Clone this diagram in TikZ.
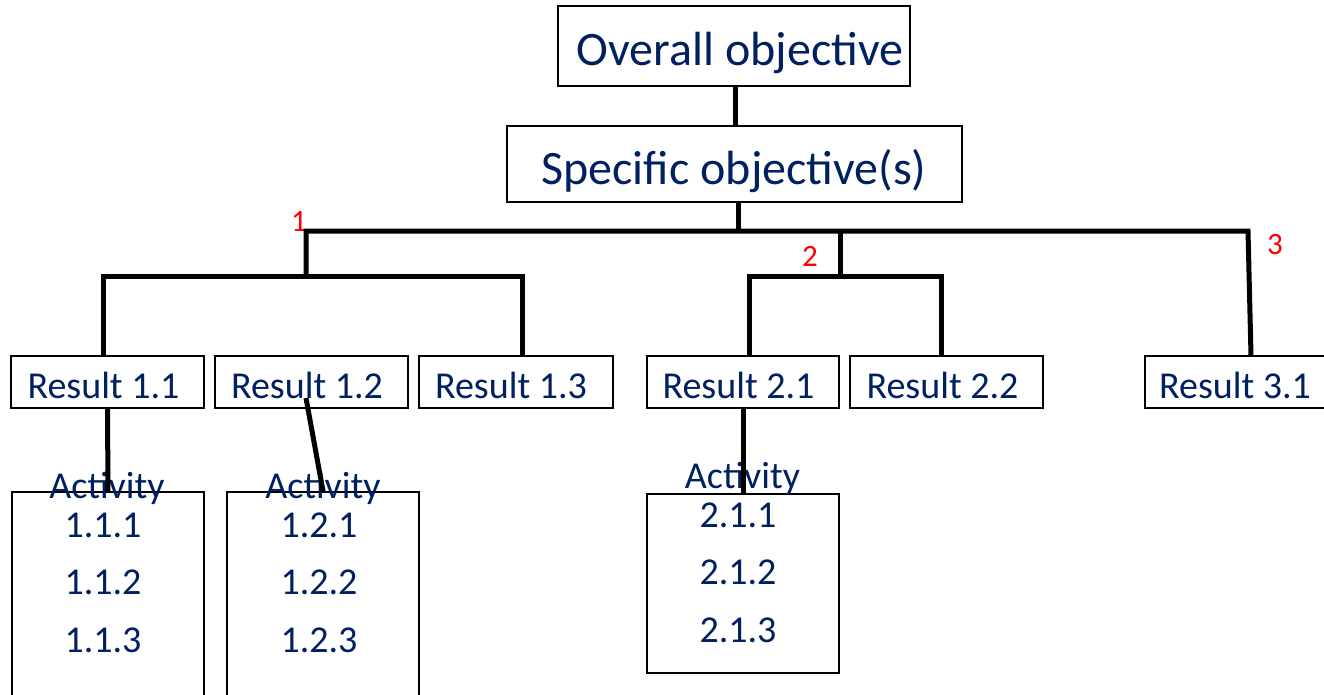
\documentclass[tikz,border=0pt]{standalone}
\usepackage{fontspec}
\setmainfont{Carlito}
\definecolor{navy}{RGB}{0,32,96}
\definecolor{numred}{RGB}{255,0,0}
\begin{document}
\begin{tikzpicture}[x=1pt,y=-1pt,
  box/.style={draw=black, line width=1.8pt, fill=white, rectangle, inner sep=0pt},
  bigtxt/.style={anchor=base, inner sep=0pt, text=navy, font=\fontsize{48}{58}\selectfont},
  smalltxt/.style={anchor=base, inner sep=0pt, text=navy, font=\fontsize{38}{46}\selectfont},
  numtxt/.style={anchor=base, inner sep=0pt, text=numred, font=\fontsize{31}{37}\selectfont},
  link/.style={draw=black, line width=5pt}]
\useasboundingbox (0,0) rectangle (1324,694);
\clip (0,0) rectangle (1324,694);

% objectives
\node[box, minimum width=352pt, minimum height=80pt] (ovb) at (734,46) {};
\node[box, minimum width=455pt, minimum height=76pt] (spb) at (734.5,164) {};
\node[bigtxt] (ovt) at (740,65) {Overall objective};
\node[bigtxt] (spt) at (734,184) {Specific objective(s)};

% results
\node[box, minimum width=193pt, minimum height=52pt] (r11) at (107.5,382) {};
\node[box, minimum width=193pt, minimum height=52pt] (r12) at (311.5,382) {};
\node[box, minimum width=194pt, minimum height=52pt] (r13) at (516,382) {};
\node[box, minimum width=192pt, minimum height=52pt] (r21) at (743,382) {};
\node[box, minimum width=193pt, minimum height=52pt] (r22) at (946.5,382) {};
\node[box, minimum width=193pt, minimum height=52pt] (r31) at (1241.5,382) {};
\node[smalltxt] (r11t) at (103.5,398) {Result 1.1};
\node[smalltxt] (r12t) at (307,398) {Result 1.2};
\node[smalltxt] (r13t) at (511,398) {Result 1.3};
\node[smalltxt] (r21t) at (738.5,398) {Result 2.1};
\node[smalltxt] (r22t) at (942.5,398) {Result 2.2};
\node[smalltxt] (r31t) at (1235,398) {Result 3.1};

% activities
\node[box, minimum width=192pt, minimum height=228pt] (a11) at (108,606) {};
\node[box, minimum width=192pt, minimum height=228pt] (a12) at (323,606) {};
\node[box, minimum width=192pt, minimum height=179pt] (a21) at (743,583.5) {};
\node[smalltxt] (a11h) at (107,498) {Activity};
\node[smalltxt] (a12h) at (323,498) {Activity};
\node[smalltxt] (a21h) at (742.5,488) {Activity};
\node[smalltxt] (a111) at (103,537) {1.1.1};
\node[smalltxt] (a112) at (103,594) {1.1.2};
\node[smalltxt] (a113) at (103,652) {1.1.3};
\node[smalltxt] (a121) at (319,537) {1.2.1};
\node[smalltxt] (a122) at (319,594) {1.2.2};
\node[smalltxt] (a123) at (319,652) {1.2.3};
\node[smalltxt] (a211) at (738,527) {2.1.1};
\node[smalltxt] (a212) at (738,584) {2.1.2};
\node[smalltxt] (a213) at (738,642) {2.1.3};

% branch numbers
\node[numtxt] (n1) at (299,231) {1};
\node[numtxt] (n2) at (810,266) {2};
\node[numtxt] (n3) at (1275,254) {3};

% junction points of the tree
\coordinate (j0) at (738,231);
\coordinate (j1) at (306,231);
\coordinate (j2) at (840,231);
\coordinate (j3) at (1248,231);
\coordinate (k1) at (306,276);
\coordinate (k1l) at (103,276);
\coordinate (k1r) at (522,276);
\coordinate (k2) at (840,276);
\coordinate (k2l) at (749,276);
\coordinate (k2r) at (941,276);
\coordinate (r31in) at (1251,356);
\coordinate (r12in) at (306,398);

% connectors
\draw[link] (ovb.south -| 735,0) -- (spb.north -| 735,0);
\draw[link] (spb.south -| j0) -- (j0);
\draw[link] (k1) -- (j1) -- (j3) -- (r31in);
\draw[link] (j2) -- (k2);
\draw[link] (k1l |- r11.north) -- (k1l) -- (k1r) -- (k1r |- r13.north);
\draw[link] (k2l |- r21.north) -- (k2l) -- (k2r) -- (k2r |- r22.north);
\draw[link] (r11.south) -- (a11.north);
\draw[link] (r12in) -- (a12.north);
\draw[link] (r21.south) -- (a21.north);
\end{tikzpicture}
\end{document}
